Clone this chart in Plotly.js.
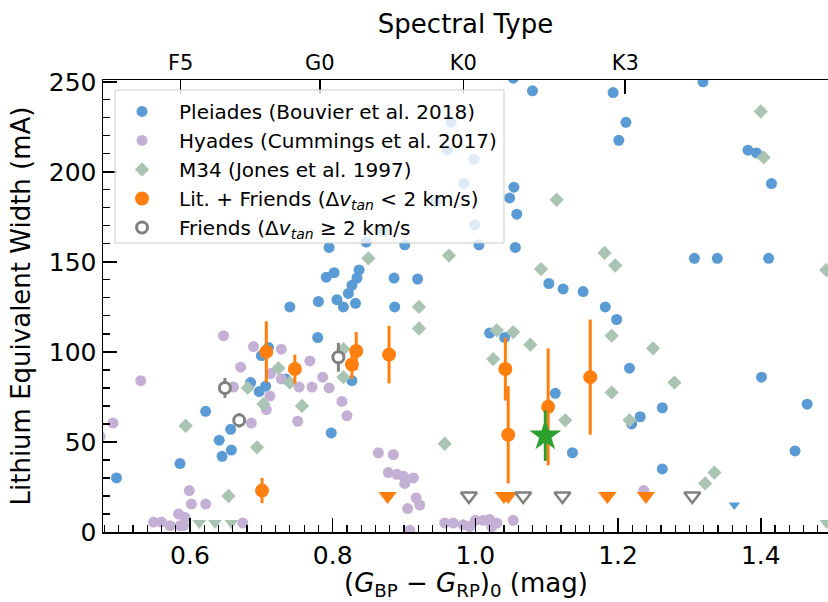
<!DOCTYPE html>
<html>
<head>
<meta charset="utf-8">
<script src="https://cdn.plot.ly/plotly-3.0.1.min.js"></script>
<style>html,body{margin:0;padding:0;background:#fff;}#chart{width:828px;height:602px;}</style>
</head>
<body>
<div id="chart"></div>
<script>
// ---------- data ----------
const pleiadesX = [0.497,0.586,0.622,0.641,0.645,0.657,0.658,0.685,0.697,0.706,0.700,0.710,0.734,0.740,0.779,0.780,0.791,0.798,0.802,0.806,0.815,0.822,0.827,0.832,0.834,0.837,0.827,0.795,0.847,0.871,0.886,0.887,0.901,0.919,0.945,0.961,0.966,0.984,0.998,0.999,1.005,1.020,1.041,1.048,1.054,1.056,1.058,1.053,1.080,1.103,1.112,1.123,1.136,1.151,1.182,1.193,1.198,1.201,1.211,1.216,1.219,1.231,1.262,1.262,1.307,1.319,1.339,1.382,1.394,1.401,1.411,1.415,1.448,1.465];
const pleiadesY = [30,38,67,51,42,57,45.5,83,78,81,98,102.5,85,125,108,128,141.5,55,144,129,125,132.5,137,127,141,145.5,84,158,161,167,141,125,159.5,140.5,183.5,212,227.5,193.5,207,170.5,159.5,110.5,108,185.5,191.5,158,176.5,252,245,138,77,135,44,133.5,125,244,118,217.5,227.5,91,60,64,69,35,152,250,152,212,210.5,86,152,193.5,45,71];
const pleiadesLimX = [1.363];
const pleiadesLimY = [15];

const hyadesX = [0.474,0.492,0.531,0.647,0.689,0.671,0.661,0.713,0.712,0.707,0.686,0.728,0.728,0.753,0.751,0.768,0.771,0.786,0.795,0.813,0.820,0.599,0.602,0.622,0.584,0.593,0.549,0.560,0.572,0.586,0.591,0.674,0.864,0.885,0.878,0.890,0.899,0.913,0.901,0.917,0.922,0.905,0.908,0.957,0.969,0.983,0.992,1.000,1.011,1.020,1.023,1.030,1.053,1.236];
const hyadesY = [53,60.5,84,109,103,91.5,80.5,88,75.5,68,60.5,101.5,85,80.5,61.5,95,80.5,86,80,72.5,64.5,23,15.5,15.5,10,8,5.5,5.5,3.5,3.5,3.5,5,44,43,33,32,31,30,27,19,15,13,1,5,5,4,3,6.5,6.5,7,3,5,6.5,23];

const m34X = [0.594,0.654,0.681,0.694,0.703,0.724,0.740,0.757,0.815,0.815,0.850,0.921,0.921,0.957,0.963,1.025,1.030,1.053,1.077,1.092,1.114,1.126,1.181,1.191,1.191,1.196,1.216,1.249,1.279,1.322,1.335,1.400,1.404,1.492];
const m34Y = [59,20,80,47,71,91,83,70,101.5,86,152,125,113,49,153.5,96,112,111,104,146,184.5,62,155,109,77.5,148,62,102,83,27,33,233.5,208,145.5];
const m34LimX = [0.613,0.635,0.658,1.492];
const m34LimY = [5,5,5,5];

const litX = [0.701,0.707,0.747,0.827,0.833,0.879,1.042,1.046,1.102,1.161];
const litY = [23,100,90.5,93,100.5,98.5,90.5,54,69.5,86];
const litErr = [7,17,8,8,10.5,16,17.5,27,32.5,32];
const litLimX = [0.877,1.040,1.046,1.185,1.239];
const litLimY = [20,20,20,20,20];

const friendsX = [0.649,0.669,0.808];
const friendsY = [80,62,97];
const friendsErr = [5.5,4,8];
const friendsLimX = [0.991,1.067,1.122,1.304];
const friendsLimY = [20,20,20,20];

const starX = [1.098];
const starY = [53.5];
const starErr = [14];

const spTypeVals = [0.587,0.782,0.983,1.210];
const spTypeText = ['F5','G0','K0','K3'];

const legendNames = [
  'Pleiades (Bouvier et al. 2018)',
  'Hyades (Cummings et al. 2017)',
  'M34 (Jones et al. 1997)',
  'Lit. + Friends (Δ<i>v</i><sub><i>tan</i></sub> &lt; 2 km/s)',
  'Friends (Δ<i>v</i><sub><i>tan</i></sub> ≥ 2 km/s'
];
const xTitle = '(<i>G</i><sub>BP</sub> − <i>G</i><sub>RP</sub>)<sub>0</sub> (mag)';

// ---------- styles ----------
const C_BLUE = '#5b9bd5', C_PURP = '#c5b0d5', C_GREEN = '#aac4b3', C_ORANGE = '#ff7f0e', C_GRAY = '#808080', C_STAR = '#2ca02c';
const FONT = 'DejaVu Sans, Verdana, sans-serif';
const XR = [0.4781, 1.4942];

const traces = [
  {x: pleiadesX, y: pleiadesY, mode:'markers', name: legendNames[0], legendgroup:'a',
   marker:{color:C_BLUE, size:11}},
  {x: pleiadesLimX, y: pleiadesLimY, mode:'markers', showlegend:false,
   marker:{color:C_BLUE, size:10, symbol:'triangle-down'}},
  {x: hyadesX, y: hyadesY, mode:'markers', name: legendNames[1], legendgroup:'b',
   marker:{color:C_PURP, size:11}},
  {x: m34X, y: m34Y, mode:'markers', name: legendNames[2], legendgroup:'c',
   marker:{color:C_GREEN, size:11, symbol:'diamond'}},
  {x: m34LimX, y: m34LimY, mode:'markers', showlegend:false,
   marker:{color:C_GREEN, size:12, symbol:'triangle-down'}},
  {x: litX, y: litY, mode:'markers', showlegend:false, hoverinfo:'skip',
   marker:{size:1, color:'rgba(0,0,0,0)'},
   error_y:{type:'data', array:litErr, visible:true, color:C_ORANGE, thickness:3, width:0}},
  {x: litX, y: litY, mode:'markers', name: legendNames[3], legendgroup:'d',
   marker:{color:C_ORANGE, size:14}},
  {x: litLimX, y: litLimY, mode:'markers', showlegend:false,
   marker:{color:C_ORANGE, size:16, symbol:'triangle-down'}},
  {x: friendsX, y: friendsY, mode:'markers', showlegend:false, hoverinfo:'skip',
   marker:{size:1, color:'rgba(0,0,0,0)'},
   error_y:{type:'data', array:friendsErr, visible:true, color:C_GRAY, thickness:3, width:0}},
  {x: friendsX, y: friendsY, mode:'markers', name: legendNames[4], legendgroup:'e',
   marker:{color:'white', size:11, symbol:'circle', line:{color:C_GRAY, width:3}}},
  {x: friendsLimX, y: friendsLimY, mode:'markers', showlegend:false,
   marker:{color:'white', size:14, symbol:'triangle-down', line:{color:C_GRAY, width:2.5}}},
  {x: starX, y: starY, mode:'markers', showlegend:false, hoverinfo:'skip',
   marker:{size:1, color:'rgba(0,0,0,0)'},
   error_y:{type:'data', array:starErr, visible:true, color:C_STAR, thickness:3, width:0}},
  {x: starX, y: starY, mode:'markers', showlegend:false,
   marker:{color:C_STAR, size:24, symbol:'star'}},
  {x: [1.0], y: [-100], xaxis:'x2', mode:'markers', showlegend:false, hoverinfo:'skip',
   marker:{size:1, color:'rgba(0,0,0,0)'}}
];

const layout = {
  width: 828, height: 602,
  margin: {l:103, r:0, t:80, b:70},
  paper_bgcolor:'white', plot_bgcolor:'white',
  font: {family: FONT, color:'black'},
  showlegend: true,
  legend: {x: 0.0028, y: 0.9735, xanchor:'left', yanchor:'top', bgcolor:'rgba(0,0,0,0)',
    borderwidth:0, font:{size:20, family:FONT}, itemwidth:64, tracegroupgap:3.5,
    traceorder:'normal'},
  shapes: [{type:'rect', xref:'paper', yref:'paper', x0:0.01655, x1:0.5531, y0:0.6394, y1:0.9779,
    fillcolor:'rgba(255,255,255,0.8)', line:{color:'#cccccc', width:1}, layer:'above'}],
  annotations: [{text: xTitle, xref:'paper', yref:'paper', x:0.5, y:-0.1549, xanchor:'center', yanchor:'bottom',
    showarrow:false, font:{size:26, family:FONT, color:'black'}, borderpad:0}],
  xaxis: {
    range: XR, showgrid:false, zeroline:false, showline:true, linecolor:'black', linewidth:1.5,
    ticks:'inside', ticklen:14, tickwidth:1.5, tickcolor:'black', dtick:0.2, tick0:0, tickformat:'.1f',
    tickfont:{size:25, family:FONT},
    minor:{ticks:'inside', dtick:0.02, tick0:0, ticklen:7, tickwidth:1.2, tickcolor:'black', showgrid:false}
  },
  xaxis2: {
    overlaying:'x', side:'top', anchor:'y', range: XR, showgrid:false, zeroline:false,
    showline:true, linecolor:'black', linewidth:1.5,
    tickmode:'array', tickvals: spTypeVals, ticktext: spTypeText,
    ticks:'inside', ticklen:14, tickwidth:1.5, tickcolor:'black',
    tickfont:{size:21, family:FONT},
    title:{text:'Spectral Type', font:{size:26, family:FONT}, standoff:10}
  },
  yaxis: {
    range:[0, 251], showgrid:false, zeroline:false, showline:true, linecolor:'black', linewidth:1.5,
    ticks:'inside', ticklen:14, tickwidth:1.5, tickcolor:'black', dtick:50, tick0:0,
    tickfont:{size:25, family:FONT},
    minor:{ticks:'inside', dtick:10, ticklen:7, tickwidth:1.2, tickcolor:'black', showgrid:false},
    title:{text:'Lithium Equivalent Width (mA)', font:{size:26, family:FONT}, standoff:10}
  }
};

Plotly.newPlot('chart', traces, layout, {displayModeBar:false, staticPlot:true});
</script>
</body>
</html>
